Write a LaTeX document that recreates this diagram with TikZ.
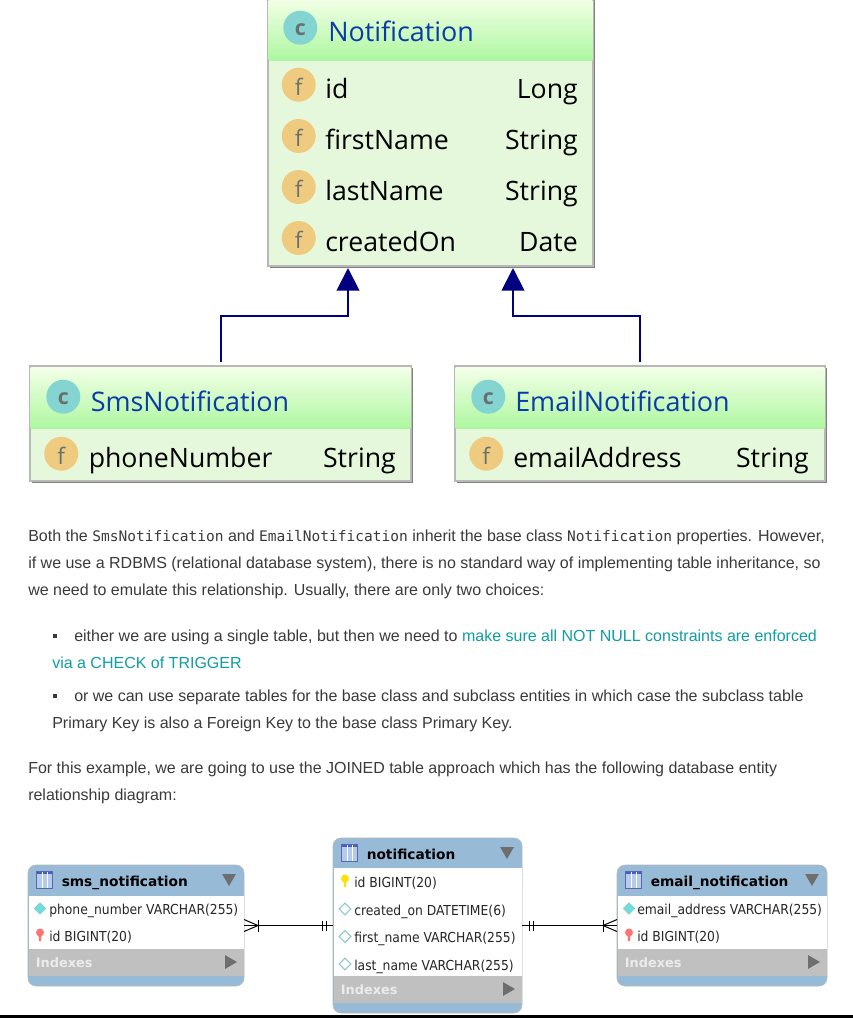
\documentclass[tikz,border=0pt]{standalone}
\usepackage{fontspec}
\setmainfont{Liberation Sans}
\setmonofont{DejaVu Sans Mono}
\newfontfamily\classfont{Open Sans}
\newfontfamily\dbfont{DejaVu Sans}
\newfontfamily\dbrowfont{DejaVu Sans Condensed}
\usetikzlibrary{shapes.geometric,arrows.meta}
\definecolor{bodytext}{HTML}{3A3A3A}
\definecolor{linktext}{HTML}{0E9EA3}
\definecolor{classborder}{HTML}{B8B8B8}
\definecolor{classshadow}{HTML}{808080}
\definecolor{classbody}{HTML}{E6F8DC}
\definecolor{headtop}{HTML}{F4FFE8}
\definecolor{headbottom}{HTML}{AEF7A0}
\definecolor{classtitle}{HTML}{0B3BA8}
\definecolor{cfill}{HTML}{84D5D2}
\definecolor{ffill}{HTML}{EFCB80}
\definecolor{letter}{HTML}{6A7070}
\definecolor{tablehead}{HTML}{97BBD7}
\definecolor{tablegray}{HTML}{C0C0C0}
\definecolor{tabletri}{HTML}{6E6E6E}
\definecolor{iconblue}{HTML}{B4CBEA}
\definecolor{iconedge}{HTML}{4A5CC4}
\definecolor{arrownavy}{HTML}{000080}
\definecolor{diamondfk}{HTML}{70DCDC}
\definecolor{diamondedge}{HTML}{8CC8C8}
\tikzset{
  sheet/.style={fill=white},
  plainbox/.style={anchor=north west, inner sep=0pt, outer sep=0pt},
  classframe/.style={plainbox, draw=classborder, line width=1.5pt, fill=classbody},
  classshade/.style={plainbox, fill=classshadow},
  classhead/.style={plainbox, top color=headtop, bottom color=headbottom},
  cicon/.style={circle, fill=cfill, text=letter, minimum size=25.5pt, inner sep=0pt, text height=11.6pt, text depth=0pt, font=\classfont\bfseries\fontsize{16}{16}\selectfont},
  ficon/.style={circle, fill=ffill, text=letter, minimum size=25.5pt, inner sep=0pt, text height=16pt, text depth=0pt, font=\classfont\fontsize{17}{17}\selectfont},
  classname/.style={anchor=base west, inner sep=0pt, text=classtitle, font=\classfont\fontsize{20.2}{25}\selectfont},
  fieldname/.style={anchor=base west, inner sep=0pt, font=\classfont\fontsize{20}{25}\selectfont},
  fieldtype/.style={anchor=base east, inner sep=0pt, font=\classfont\fontsize{20}{25}\selectfont},
  extends/.style={draw=arrownavy, line width=1.5pt, -{Triangle[length=17pt,width=17pt]}},
  textline/.style={anchor=base west, inner sep=0pt, text=bodytext, font=\fontsize{12}{14}\selectfont},
  bulletmark/.style={rectangle, fill=bodytext, minimum size=3.7pt, inner sep=0pt},
  dbframe/.style={plainbox, fill=tablehead, draw=classborder, line width=0.4pt, rounded corners=6pt},
  dbrows/.style={plainbox, fill=white},
  dbindex/.style={plainbox, fill=tablegray},
  dbtitle/.style={anchor=base west, inner sep=0pt, font=\dbfont\bfseries\fontsize{10.3}{12}\selectfont},
  dbrow/.style={anchor=base west, inner sep=0pt, text=black!85, font=\dbrowfont\fontsize{10.3}{12}\selectfont},
  dbindextext/.style={anchor=base west, inner sep=0pt, text=white!92!black, font=\dbfont\bfseries\fontsize{9.7}{12}\selectfont},
  dbicon/.style={rectangle, minimum width=12pt, minimum height=13pt, inner sep=0pt, fill=iconblue, draw=iconedge!70!gray, line width=0.6pt,
    path picture={\fill[iconedge] (path picture bounding box.north west) rectangle ([yshift=-2pt]path picture bounding box.north east);
      \draw[white, line width=0.4pt] ([xshift=-2pt]path picture bounding box.south) -- ([xshift=-2pt]path picture bounding box.north);
      \draw[white, line width=0.4pt] ([xshift=2pt]path picture bounding box.south) -- ([xshift=2pt]path picture bounding box.north);}},
  tridown/.style={regular polygon, regular polygon sides=3, shape border rotate=180, fill=tabletri, minimum size=12pt, inner sep=0pt},
  triright/.style={regular polygon, regular polygon sides=3, shape border rotate=-90, fill=tabletri, minimum size=12pt, inner sep=0pt},
  colfk/.style={diamond, fill=diamondfk, draw=diamondedge, line width=0.3pt, minimum size=9pt, inner sep=0pt},
  colplain/.style={diamond, fill=white, draw=diamondedge, line width=0.8pt, minimum size=9pt, inner sep=0pt},
  colkeyhead/.style={circle, minimum size=6pt, inner sep=0pt},
  relation/.style={draw=black, line width=0.75pt},
}
\newcommand{\boxnode}[7]{\node [#7] (#1) at (#2,#3) [minimum width={(#4)*0.75pt}, minimum height={(#5)*0.75pt}] {#6};}
\newcommand{\classbox}[6]{
  \boxnode{#1shade}{#2+2}{#3+2}{#4}{#5}{}{classshade};
  \boxnode{#1}{#2}{#3}{#4}{#5}{}{classframe};
}
\newcommand{\fieldrow}[7]{
  \node [ficon] (#1icon) at (#3,#2) {f};
  \node [fieldname] (#1name) at (#4,#2+13.5) {#5};
  \node [fieldtype] (#1type) at (#6,#2+13.5) {#7};
}
\newcommand{\dbtable}[7]{
  \boxnode{#1}{#2}{#3}{#4}{#5}{}{dbframe};
  \boxnode{#1rows}{#2+0.5}{#3+#6}{#4-1}{#5-#6-37}{}{dbrows};
  \boxnode{#1index}{#2+0.5}{#3+#5-37}{#4-1}{27}{}{dbindex};
  \node [dbicon] (#1icon) at (#2+16.5,#3+15) {};
  \node [dbtitle] (#1title) at (#2+33.5,#3+21) {#7};
  \node [tridown] (#1down) at (#2+#4-15,#3+13) {};
  \node [dbindextext] (#1indexes) at (#2+7.5,#3+#5-19) {Indexes};
  \node [triright] (#1more) at (#2+#4-15,#3+#5-24) {};
}
\newcommand{\tablerow}[6]{
  \node [#2] (#1icon) at (#3,#4) {};
  \node [dbrow] (#1text) at (#5,#4+6) {#6};
}
\newcommand{\keyrow}[6]{
  \node [colkeyhead, fill=#2] (#1icon) at (#3,#4-2.5) {};
  \fill [#2] (#3-1.5,#4-2) -- (#3+1.5,#4-2) -- (#3+1,#4+6) -- (#3-1,#4+6) -- cycle;
  \node [dbrow] (#1text) at (#5,#4+6) {#6};
}
\newcommand{\crowfoot}[2]{
  \draw [relation] (#1) ++(#2*14,-6) -- ++(0,12);
  \draw [relation] (#1) ++(0,-6) -- ++(#2*14,6) -- ++(#2*-14,6);
}
\newcommand{\onlyone}[2]{
  \draw [relation] (#1) ++(#2*7,-5) -- ++(0,10);
  \draw [relation] (#1) ++(#2*11,-5) -- ++(0,10);
}
\begin{document}
\begin{tikzpicture}[x=0.75pt,y=-0.75pt]
\path [use as bounding box, sheet] (0,0) rectangle (853,1018);

% class diagram
\classbox{notification}{268}{-3}{325}{269};
\boxnode{notificationhead}{268.7}{-2}{323.6}{62}{}{classhead};
\node [cicon] (notificationc) at (300.3,27.7) {c};
\node [classname] (notificationtitle) at (328,41) {Notification};
\fieldrow{id}{84.7}{298.7}{325}{id}{578}{Long};
\fieldrow{first}{136}{298.7}{325}{firstName}{578}{String};
\fieldrow{last}{187}{298.7}{325}{lastName}{578}{String};
\fieldrow{created}{238}{298.7}{325}{createdOn}{578}{Date};

\classbox{sms}{30}{366}{381}{115};
\boxnode{smshead}{30.7}{367}{379.6}{61}{}{classhead};
\node [cicon] (smsc) at (63.3,396.7) {c};
\node [classname] (smstitle) at (90.5,411) {SmsNotification};
\fieldrow{phone}{453.7}{61.3}{88.5}{phoneNumber}{396}{String};

\classbox{email}{455}{366}{370}{115};
\boxnode{emailhead}{455.7}{367}{368.6}{61}{}{classhead};
\node [cicon] (emailc) at (488.3,396.7) {c};
\node [classname] (emailtitle) at (515,411) {EmailNotification};
\fieldrow{address}{453.7}{486.3}{513}{emailAddress}{809}{String};

\coordinate (smstarget) at (348,268);
\coordinate (smsbend) at (348,316);
\coordinate (emailtarget) at (513,268);
\coordinate (emailbend) at (513,316);
\draw [extends, shorten <=3pt] (sms.north) |- (smsbend) -- (smstarget);
\draw [extends, shorten <=3pt] (email.north) |- (emailbend) -- (emailtarget);

% text
\node [textline] (lineone) at (28,541) {Both the {\ttfamily\fontsize{10.9}{12}\selectfont SmsNotification} and {\ttfamily\fontsize{10.9}{12}\selectfont EmailNotification} inherit the base class {\ttfamily\fontsize{10.9}{12}\selectfont Notification} properties. However,};
\node [textline] (linetwo) at (28,568) {if we use a RDBMS (relational database system), there is no standard way of implementing table inheritance, so};
\node [textline] (linethree) at (28,595) {we need to emulate this relationship. Usually, there are only two choices:};
\node [bulletmark] (bulletone) at (55,636) {};
\node [textline] (linefour) at (74,641) {either we are using a single table, but then we need to \textcolor{linktext}{make sure all NOT NULL constraints are enforced}};
\node [textline, text=linktext] (linefive) at (52,668) {via a CHECK of TRIGGER};
\node [bulletmark] (bullettwo) at (55,696) {};
\node [textline] (linesix) at (74,701) {or we can use separate tables for the base class and subclass entities in which case the subclass table};
\node [textline] (lineseven) at (52,728) {Primary Key is also a Foreign Key to the base class Primary Key.};
\node [textline] (lineeight) at (28,773) {For this example, we are going to use the JOINED table approach which has the following database entity};
\node [textline] (linenine) at (28,800) {relationship diagram:};

% tables
\coordinate (ruleleft) at (0,1016.5);
\coordinate (ruleright) at (853,1016.5);
\draw [line width=2.25pt, black] (ruleleft) -- (ruleright);

\dbtable{tsms}{28}{865}{216}{121}{31}{sms\_notification};
\tablerow{tsmsphone}{colfk}{40}{908.5}{49}{phone\_number VARCHAR(255)};
\keyrow{tsmsid}{red!55!white}{40}{935}{49}{id BIGINT(20)};

\dbtable{tnotif}{333}{838}{189}{175}{30}{notification};
\keyrow{tnotifid}{yellow!85!orange}{345}{881}{354}{id BIGINT(20)};
\tablerow{tnotifcreated}{colplain}{345}{909}{354}{created\_on DATETIME(6)};
\tablerow{tnotiffirst}{colplain}{345}{936.5}{354}{first\_name VARCHAR(255)};
\tablerow{tnotiflast}{colplain}{345}{964}{354}{last\_name VARCHAR(255)};

\dbtable{temail}{617}{865}{210}{121}{31}{email\_notification};
\tablerow{temailaddr}{colfk}{629}{908.5}{637}{email\_address VARCHAR(255)};
\keyrow{temailid}{red!55!white}{629}{935}{637}{id BIGINT(20)};

\draw [relation] (tsms) -- (tnotif);
\draw [relation] (tnotif) -- (temail);
\crowfoot{tsms.east}{1};
\onlyone{tnotif.west}{-1};
\onlyone{tnotif.east}{1};
\crowfoot{temail.west}{-1};

\end{tikzpicture}
\end{document}
